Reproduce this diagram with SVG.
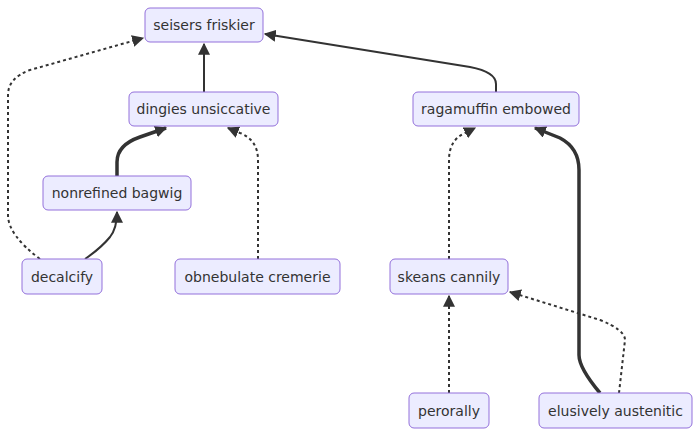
<svg xmlns="http://www.w3.org/2000/svg" width="700" height="436" viewBox="0 0 700 436">
<style>
.node rect{fill:#ECECFF;stroke:#9370DB;stroke-width:1}
.node text{font-family:"DejaVu Sans",sans-serif;font-size:14px;fill:#333;text-anchor:middle;dominant-baseline:central}
.e{fill:none;stroke:#333;stroke-width:2;marker-end:url(#arr)}
.d{stroke-dasharray:3 3}
.t{stroke-width:3.5}
</style>
<defs>
<marker id="arr" viewBox="0 0 10 10" refX="9" refY="5" markerUnits="userSpaceOnUse" markerWidth="12" markerHeight="12" orient="auto">
<path d="M0,0 L10,5 L0,10 z" fill="#333"/>
</marker>
</defs>
<rect width="700" height="436" fill="#fff"/>
<g id="edges">
<path class="e" d="M204,92 L204,44"/>
<path class="e" d="M496,92 L496,84 Q496,72 470,67 L265,34"/>
<path class="e t" d="M117,176 L117,162 Q117,145 140,137 L166,128"/>
<path class="e" d="M85,259 Q101,248 110,237 Q117,228 117,212"/>
<path class="e d" d="M40,259 Q8,235 8,215 L8,95 Q8,78 30,70 L143,38"/>
<path class="e d" d="M258,259 L258,160 Q258,140 240,133 L228,128"/>
<path class="e d" d="M449,259 L449,160 Q449,140 465,133 L475,128"/>
<path class="e t" d="M600,393 Q579,368 579,355 L579,170 Q579,148 560,138 L535,128"/>
<path class="e d" d="M449,393 L449,296"/>
<path class="e d" d="M619,393 L625,340 Q625,330 600,320 L510,292"/>
</g>
<g id="n-seisers" class="node"><rect x="145" y="8" width="118" height="34" rx="5"/><text x="204" y="25">seisers friskier</text></g>
<g id="n-dingies" class="node"><rect x="129" y="92" width="149" height="34" rx="5"/><text x="203.5" y="109">dingies unsiccative</text></g>
<g id="n-ragamuffin" class="node"><rect x="413" y="92" width="166" height="34" rx="5"/><text x="496" y="109">ragamuffin embowed</text></g>
<g id="n-nonrefined" class="node"><rect x="43" y="176" width="148" height="34" rx="5"/><text x="117" y="193">nonrefined bagwig</text></g>
<g id="n-decalcify" class="node"><rect x="22" y="259" width="80" height="35" rx="5"/><text x="62" y="276.5">decalcify</text></g>
<g id="n-obnebulate" class="node"><rect x="175" y="259" width="165" height="35" rx="5"/><text x="257.5" y="276.5">obnebulate cremerie</text></g>
<g id="n-skeans" class="node"><rect x="390" y="259" width="118" height="35" rx="5"/><text x="449" y="276.5">skeans cannily</text></g>
<g id="n-perorally" class="node"><rect x="409" y="393" width="80" height="35" rx="5"/><text x="449" y="410.5">perorally</text></g>
<g id="n-elusively" class="node"><rect x="539" y="393" width="153" height="35" rx="5"/><text x="615.5" y="410.5">elusively austenitic</text></g>
</svg>
